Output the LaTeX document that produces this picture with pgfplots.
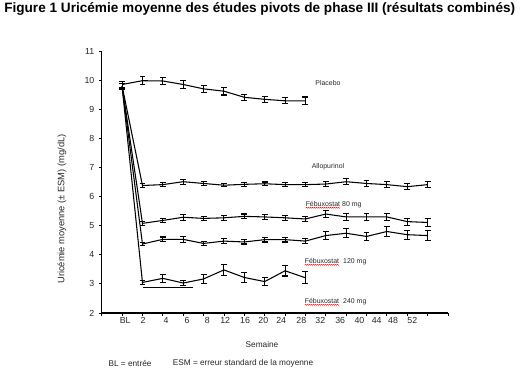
\documentclass[border=0pt]{standalone}
\usepackage{fontspec}
\setmainfont{Liberation Sans}
\usepackage{pgfplots}
\pgfplotsset{compat=1.18}
\usetikzlibrary{decorations.pathmorphing}

\newcommand{\feb}{\tikz[baseline=(w.base)]{\node[inner sep=0pt,outer sep=0pt,anchor=base](w){Fébuxostat};\draw[red,line width=0.35pt,decorate,decoration={snake,amplitude=0.3pt,segment length=1.5pt}]([yshift=-0.9pt]w.base west)--([yshift=-0.9pt]w.base east);}}

\pgfplotsset{ebline/.style={black, line width=0.8pt, mark=none,
    error bars/.cd, y dir=both, y explicit,
    error bar style={line width=0.8pt, black},
    error mark options={rotate=90, mark size=2.2pt, line width=0.8pt, black}}}

\pgfplotstableread{
x y e
0 9.85 0.10
1 9.98 0.13
2 9.97 0.13
3 9.85 0.13
4 9.70 0.13
5 9.62 0.13
6 9.41 0.10
7 9.34 0.10
8 9.29 0.10
9 9.29 0.13
}\placebo

\pgfplotstableread{
x y e
0 9.80 0.10
1 6.38 0.06
2 6.41 0.06
3 6.51 0.08
4 6.45 0.06
5 6.39 0.06
6 6.42 0.06
7 6.44 0.06
8 6.41 0.06
9 6.41 0.07
10 6.43 0.10
11 6.51 0.10
12 6.45 0.10
13 6.41 0.10
14 6.34 0.10
15 6.41 0.10
}\allo

\pgfplotstableread{
x y e
0 9.80 0.10
1 5.08 0.06
2 5.18 0.07
3 5.29 0.10
4 5.25 0.07
5 5.27 0.08
6 5.32 0.08
7 5.30 0.08
8 5.27 0.08
9 5.23 0.10
10 5.40 0.13
11 5.30 0.13
12 5.30 0.12
13 5.30 0.12
14 5.14 0.12
15 5.11 0.14
}\febA

\pgfplotstableread{
x y e
0 9.78 0.10
1 4.37 0.06
2 4.53 0.08
3 4.53 0.11
4 4.39 0.07
5 4.47 0.08
6 4.44 0.07
7 4.52 0.08
8 4.52 0.08
9 4.47 0.08
10 4.66 0.14
11 4.74 0.15
12 4.63 0.14
13 4.80 0.16
14 4.69 0.16
15 4.66 0.17
}\febB

\pgfplotstableread{
x y e
0 9.78 0.10
1 3.05 0.06
2 3.19 0.13
3 3.03 0.10
4 3.17 0.16
5 3.48 0.20
6 3.22 0.18
7 3.08 0.14
8 3.45 0.18
9 3.21 0.20
}\febC

\begin{document}
\begin{tikzpicture}
\path[use as bounding box] (0pt,0pt) rectangle (394.5pt,-286.5pt);
\begin{axis}[
  at={(76.3pt,-234.75pt)}, anchor=south west,
  scale only axis, width=259.7pt, height=196.5pt,
  xmin=-1, xmax=16, ymin=2, ymax=11,
  axis x line=bottom, axis y line=left,
  axis line style={-, line width=1pt, black},
  tick align=outside, major tick length=2pt,
  tick style={line width=0.6pt, black},
  xtick={-1,0,...,16}, xticklabels={},
  extra x ticks={0.15,1.03,2.16,3.19,4.18,5.06,6.04,6.93,7.81,8.8,9.73,10.71,11.65,12.5,13.3,14.25},
  extra x tick labels={BL,2,4,6,8,12,16,20,24,28,32,36,40,44,48,52},
  extra x tick style={major tick length=0pt},
  ytick={2,...,11},
  /pgf/number format/assume math mode=true,
  ticklabel style={font=\fontsize{6.6}{7}\selectfont, text=black!85},
  clip=false,
]
\addplot[ebline] table[x=x,y=y,y error=e]{\placebo};
\addplot[ebline] table[x=x,y=y,y error=e]{\allo};
\addplot[ebline] table[x=x,y=y,y error=e]{\febA};
\addplot[ebline] table[x=x,y=y,y error=e]{\febB};
\addplot[ebline] table[x=x,y=y,y error=e]{\febC};
\addplot[black, line width=0.6pt, mark=none] coordinates {(1.03,2.88) (3.48,2.88)};
\end{axis}
\begin{scope}[x=0.75pt,y=-0.75pt]
\node[anchor=west, font=\bfseries\fontsize{10.2}{12}\selectfont, inner sep=0pt] at (4,9) {Figure 1 Uricémie moyenne des études pivots de phase III (résultats combinés)};
\node[rotate=90, font=\fontsize{7}{8}\selectfont, text=black!85] at (62,209) {Uricémie moyenne (± ESM) (mg/dL)};
\node[font=\fontsize{6.2}{7}\selectfont, text=black!85] at (262,345) {Semaine};
\node[font=\fontsize{6.2}{7}\selectfont, text=black!85] at (130,363) {BL = entrée};
\node[font=\fontsize{6.2}{7}\selectfont, text=black!85] at (243,363) {ESM = erreur standard de la moyenne};
\node[font=\fontsize{5.2}{6}\selectfont, text=black!85] at (328,83) {Placebo};
\node[font=\fontsize{5.2}{6}\selectfont, text=black!85] at (328,167) {Allopurinol};
\node[font=\fontsize{5.2}{6}\selectfont, text=black!85] at (333.5,205) {\feb{} 80 mg};
\node[font=\fontsize{5.2}{6}\selectfont, text=black!85] at (335.5,262) {\feb{}\ \ 120 mg};
\node[font=\fontsize{5.2}{6}\selectfont, text=black!85] at (335.5,302) {\feb{}\ \ 240 mg};
\end{scope}
\end{tikzpicture}
\end{document}
